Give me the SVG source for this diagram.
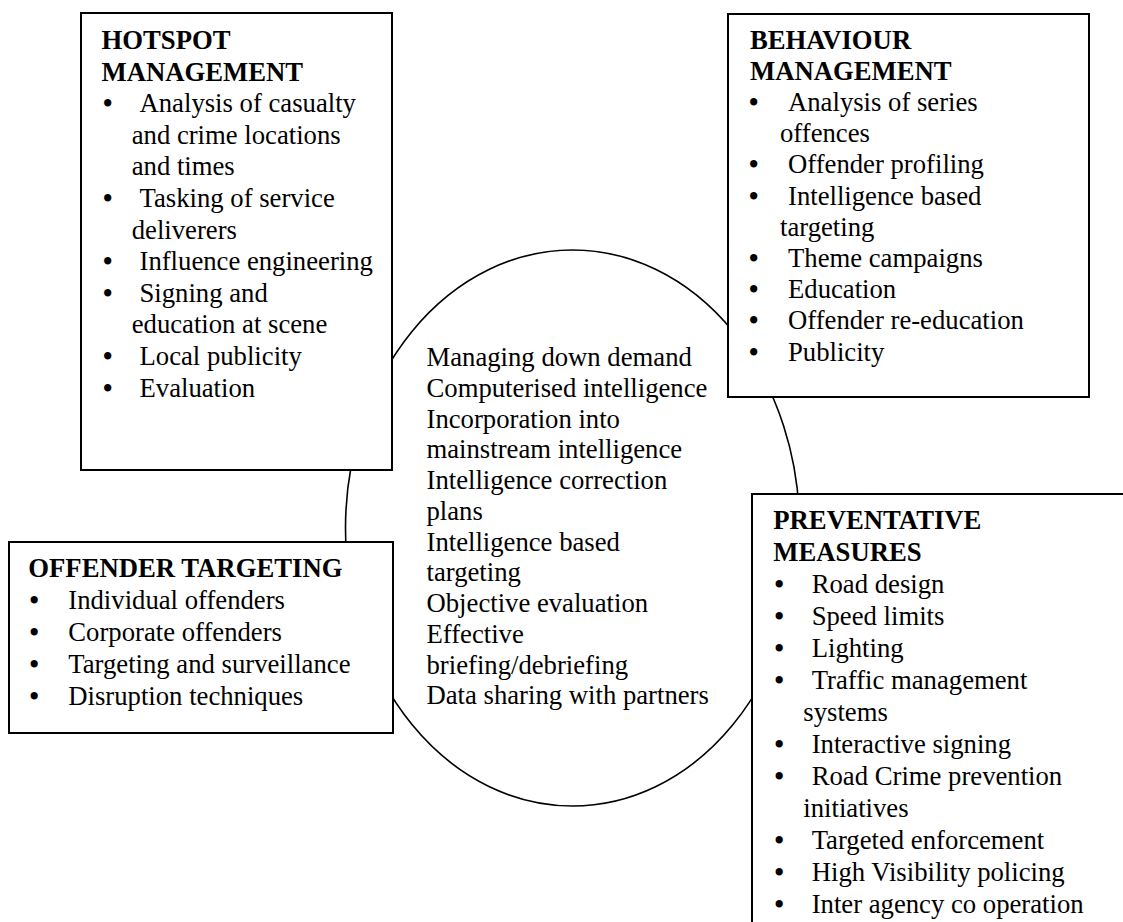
<svg xmlns="http://www.w3.org/2000/svg" width="1123" height="922" viewBox="0 0 1123 922">
  <style>
    text { font-family: "Liberation Serif", "Times New Roman", serif; font-size: 26.7px; fill: #000; }
    .h { font-weight: bold; }
    .b { font-weight: bold; }
    .box { fill: #fff; stroke: #000; stroke-width: 2; }
    .ring { fill: #fff; stroke: #000; stroke-width: 1.6; }
  </style>
  <rect width="1123" height="922" fill="#fff"/>

  <g id="connectors">
    <ellipse class="ring" cx="572.5" cy="528" rx="227" ry="278"/>
  </g>

  <g id="centre">
    <text x="426.5" y="366">Managing down demand</text>
    <text x="426.5" y="396.75">Computerised intelligence</text>
    <text x="426.5" y="427.5">Incorporation into</text>
    <text x="426.5" y="458.25">mainstream intelligence</text>
    <text x="426.5" y="489">Intelligence correction</text>
    <text x="426.5" y="519.75">plans</text>
    <text x="426.5" y="550.5">Intelligence based</text>
    <text x="426.5" y="581.25">targeting</text>
    <text x="426.5" y="612">Objective evaluation</text>
    <text x="426.5" y="642.75">Effective</text>
    <text x="426.5" y="673.5">briefing/debriefing</text>
    <text x="426.5" y="704.25">Data sharing with partners</text>
  </g>

  <g id="hotspot">
    <rect class="box" x="81" y="13" width="311" height="457"/>
    <text class="h" x="101.5" y="49">HOTSPOT</text>
    <text class="h" x="101.5" y="80.6">MANAGEMENT</text>
    <text y="112.2"><tspan class="b" x="103">•</tspan><tspan x="139.5">Analysis of casualty</tspan></text>
    <text x="131.7" y="143.8">and crime locations</text>
    <text x="131.7" y="175.4">and times</text>
    <text y="207"><tspan class="b" x="103">•</tspan><tspan x="139.5">Tasking of service</tspan></text>
    <text x="131.7" y="238.6">deliverers</text>
    <text y="270.2"><tspan class="b" x="103">•</tspan><tspan x="139.5">Influence engineering</tspan></text>
    <text y="301.8"><tspan class="b" x="103">•</tspan><tspan x="139.5">Signing and</tspan></text>
    <text x="131.7" y="333.4">education at scene</text>
    <text y="365"><tspan class="b" x="103">•</tspan><tspan x="139.5">Local publicity</tspan></text>
    <text y="396.6"><tspan class="b" x="103">•</tspan><tspan x="139.5">Evaluation</tspan></text>
  </g>

  <g id="behaviour">
    <rect class="box" x="728" y="14" width="361" height="383"/>
    <text class="h" x="750" y="48.5">BEHAVIOUR</text>
    <text class="h" x="750" y="79.7">MANAGEMENT</text>
    <text y="110.9"><tspan class="b" x="749">•</tspan><tspan x="788">Analysis of series</tspan></text>
    <text x="780" y="142.1">offences</text>
    <text y="173.3"><tspan class="b" x="749">•</tspan><tspan x="788">Offender profiling</tspan></text>
    <text y="204.5"><tspan class="b" x="749">•</tspan><tspan x="788">Intelligence based</tspan></text>
    <text x="780" y="235.7">targeting</text>
    <text y="266.9"><tspan class="b" x="749">•</tspan><tspan x="788">Theme campaigns</tspan></text>
    <text y="298.1"><tspan class="b" x="749">•</tspan><tspan x="788">Education</tspan></text>
    <text y="329.3"><tspan class="b" x="749">•</tspan><tspan x="788">Offender re-education</tspan></text>
    <text y="360.5"><tspan class="b" x="749">•</tspan><tspan x="788">Publicity</tspan></text>
  </g>

  <g id="offender-targeting">
    <rect class="box" x="9" y="542" width="384" height="191"/>
    <text class="h" x="28.3" y="576.5">OFFENDER TARGETING</text>
    <text y="608.5"><tspan class="b" x="29.5">•</tspan><tspan x="68.3">Individual offenders</tspan></text>
    <text y="640.5"><tspan class="b" x="29.5">•</tspan><tspan x="68.3">Corporate offenders</tspan></text>
    <text y="672.5"><tspan class="b" x="29.5">•</tspan><tspan x="68.3">Targeting and surveillance</tspan></text>
    <text y="704.5"><tspan class="b" x="29.5">•</tspan><tspan x="68.3">Disruption techniques</tspan></text>
  </g>

  <g id="preventative">
    <rect class="box" x="752" y="494" width="400" height="500"/>
    <text class="h" x="773.3" y="529">PREVENTATIVE</text>
    <text class="h" x="773.3" y="561">MEASURES</text>
    <text y="593"><tspan class="b" x="774.5">•</tspan><tspan x="811.7">Road design</tspan></text>
    <text y="625"><tspan class="b" x="774.5">•</tspan><tspan x="811.7">Speed limits</tspan></text>
    <text y="657"><tspan class="b" x="774.5">•</tspan><tspan x="811.7">Lighting</tspan></text>
    <text y="689"><tspan class="b" x="774.5">•</tspan><tspan x="811.7">Traffic management</tspan></text>
    <text x="803.3" y="721">systems</text>
    <text y="753"><tspan class="b" x="774.5">•</tspan><tspan x="811.7">Interactive signing</tspan></text>
    <text y="785"><tspan class="b" x="774.5">•</tspan><tspan x="811.7">Road Crime prevention</tspan></text>
    <text x="803.3" y="817">initiatives</text>
    <text y="849"><tspan class="b" x="774.5">•</tspan><tspan x="811.7">Targeted enforcement</tspan></text>
    <text y="881"><tspan class="b" x="774.5">•</tspan><tspan x="811.7">High Visibility policing</tspan></text>
    <text y="913"><tspan class="b" x="774.5">•</tspan><tspan x="811.7">Inter agency co operation</tspan></text>
  </g>
</svg>
